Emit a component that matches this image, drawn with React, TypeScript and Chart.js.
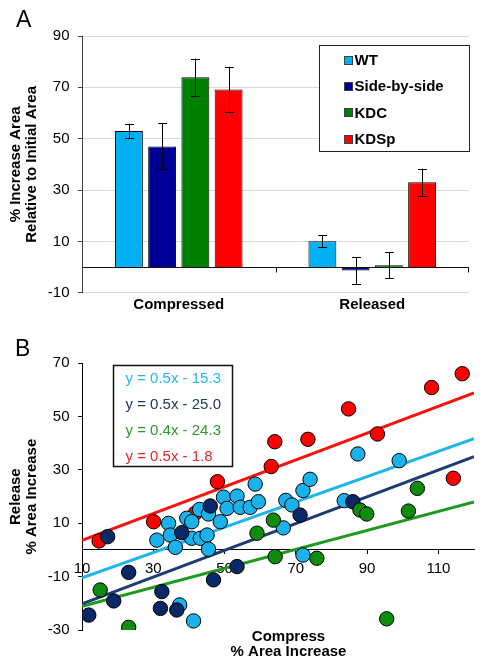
import React, { useEffect, useRef } from "react";
import { Chart, registerables } from "chart.js";

Chart.register(...registerables);

const FONT = "'Liberation Sans', Arial, Helvetica, sans-serif";

// ---------- Panel A data ----------
const groups = ["Compressed", "Released"];
const seriesNames = ["WT", "Side-by-side", "KDC", "KDSp"];
const wtMeans = [53, 10];
const sideMeans = [47, -1.4];
const kdcMeans = [73.9, 0.7];
const kdspMeans = [69.2, 33];
const wtErrors = [2.8, 2.3];
const sideErrors = [9, 5.3];
const kdcErrors = [7.3, 5.1];
const kdspErrors = [8.8, 5.3];
const barTicks = [-10, 10, 30, 50, 70, 90];
const barColors = ["#00B0F0", "#000099", "#008000", "#FF0000"];

// ---------- Panel B data ----------
const wtX = [31, 34.3, 34.8, 36.2, 39.4, 40.8, 40.8, 43.2, 45.1, 45.5, 43, 45.5, 48.8, 49.7, 50.7, 53.5, 54.4, 57.2, 58.6, 59.5, 66.5, 67.2, 68.9, 72, 74, 72, 83.6, 87.4, 99, 37.4, 41.3];
const wtY = [3.7, 10, 5.6, 1, 11.9, 10.6, 4.4, 4.4, 5.6, 0.3, 15.2, 13.5, 10.6, 19.8, 15.6, 20.2, 16, 16, 24.7, 18.1, 8.3, 18.6, 16.9, 22.3, 26.5, -1.9, 18.5, 36, 33.5, -20.6, -26.6];
const sideX = [17.2, 11.9, 18.9, 23.1, 32.4, 32, 36.6, 38, 46, 46.9, 53.5, 71.2, 86];
const sideY = [5, -24.4, -19.1, -8.4, -15.6, -21.9, -22.5, 6.5, 16.5, -11.2, -6.2, 13.1, 18.1];
const kdcX = [15.1, 23.1, 59.1, 63.7, 64.2, 75.9, 88, 89.9, 95.5, 101.6, 104.1];
const kdcY = [-15, -29, 6.3, 11.2, -2.5, -3.1, 15, 13.5, -25.8, 14.6, 23.1];
const kdspX = [14.8, 30.1, 41.8, 48, 63.1, 64.1, 73.4, 84.8, 92.9, 108.1, 116.7, 114.2];
const kdspY = [3.4, 10.6, 13.8, 25.6, 31.3, 40.6, 41.5, 52.9, 43.5, 60.9, 66.1, 26.9];

const trendX = [10, 120];
const wtTrendY = [-10.4, 41.7];
const sideTrendY = [-20.2, 35];
const kdcTrendY = [-21.1, 18];
const kdspTrendY = [3.6, 58.9];

const equations = ["y = 0.5x - 15.3", "y = 0.5x - 25.0", "y = 0.4x - 24.3", "y = 0.5x - 1.8"];
const compressTicks = [10, 30, 50, 70, 90, 110];
const releaseTicks = [-30, -10, 10, 30, 50, 70];

const pointColors = ["#1AB2EA", "#0B2866", "#0F8C0F", "#FF0000"];
const lineColors = ["#1CB5EC", "#1F3C75", "#1E9A1E", "#FF1010"];
const eqColors = ["#27B5E8", "#1F3864", "#2E9B2E", "#E8262A"];

const meansBySeries = [wtMeans, sideMeans, kdcMeans, kdspMeans];
const errorsBySeries = [wtErrors, sideErrors, kdcErrors, kdspErrors];

const panelAPlugin = {
  id: "panelAExtras",
  afterDatasetsDraw(chart: any) {
    const { ctx, chartArea, scales } = chart;
    const y = scales.y;
    const x = scales.x;
    ctx.save();
    // error bars
    ctx.strokeStyle = "#000";
    ctx.lineWidth = 1;
    meansBySeries.forEach((means, i) => {
      const meta = chart.getDatasetMeta(i);
      means.forEach((m, j) => {
        const el = meta.data[j];
        const err = errorsBySeries[i][j];
        const yt = y.getPixelForValue(m + err);
        const yb = y.getPixelForValue(m - err);
        const cx = Math.round(el.x) + 0.5;
        ctx.beginPath();
        ctx.moveTo(cx, yt);
        ctx.lineTo(cx, yb);
        ctx.moveTo(cx - 4.5, Math.round(yt) + 0.5);
        ctx.lineTo(cx + 4.5, Math.round(yt) + 0.5);
        ctx.moveTo(cx - 4.5, Math.round(yb) + 0.5);
        ctx.lineTo(cx + 4.5, Math.round(yb) + 0.5);
        ctx.stroke();
      });
    });
    // zero line
    const y0 = Math.round(y.getPixelForValue(0)) + 0.5;
    ctx.strokeStyle = "#111";
    ctx.beginPath();
    ctx.moveTo(chartArea.left, y0);
    ctx.lineTo(chartArea.right, y0);
    const sep = (x.getPixelForValue(0) + x.getPixelForValue(1)) / 2;
    ctx.moveTo(Math.round(sep) + 0.5, y0);
    ctx.lineTo(Math.round(sep) + 0.5, y0 + 5);
    ctx.moveTo(chartArea.right - 0.5, y0);
    ctx.lineTo(chartArea.right - 0.5, y0 + 5);
    ctx.stroke();
    ctx.restore();
  },
  afterDraw(chart: any) {
    const { ctx, chartArea } = chart;
    ctx.save();
    // legend box
    const bw = 150;
    const bh = 106;
    const bx = Math.round(chartArea.right - bw) + 0.5;
    const by = Math.round(chartArea.top + 9) + 0.5;
    ctx.fillStyle = "#fff";
    ctx.fillRect(bx, by, bw, bh);
    ctx.strokeStyle = "#222";
    ctx.lineWidth = 1;
    ctx.strokeRect(bx, by, bw, bh);
    ctx.font = `bold 15px ${FONT}`;
    ctx.textBaseline = "middle";
    ctx.textAlign = "left";
    chart.data.datasets.forEach((ds: any, i: number) => {
      const cy = by + 14.3 + i * 26.3;
      ctx.fillStyle = ds.backgroundColor;
      ctx.fillRect(bx + 25, Math.round(cy - 4) + 0.5, 8, 8);
      ctx.strokeStyle = "#404040";
      ctx.strokeRect(bx + 25, Math.round(cy - 4) + 0.5, 8, 8);
      ctx.fillStyle = "#000";
      ctx.fillText(ds.label, bx + 35, cy + 1);
    });
    // panel letter
    ctx.font = `23px ${FONT}`;
    ctx.textBaseline = "alphabetic";
    ctx.fillStyle = "#000";
    ctx.fillText("A", 16, 27);
    ctx.restore();
  },
};

const panelBPlugin = {
  id: "panelBExtras",
  afterDraw(chart: any) {
    const { ctx, chartArea } = chart;
    ctx.save();
    const bx = Math.round(chartArea.left + 31.3) + 0.5;
    const by = Math.round(chartArea.top + 1.7) + 0.5;
    const bw = 119;
    const bh = 101;
    ctx.fillStyle = "#fff";
    ctx.fillRect(bx, by, bw, bh);
    ctx.strokeStyle = "#111";
    ctx.lineWidth = 1.5;
    ctx.strokeRect(bx, by, bw, bh);
    ctx.font = `15px ${FONT}`;
    ctx.textBaseline = "middle";
    ctx.textAlign = "left";
    equations.forEach((eq, i) => {
      ctx.fillStyle = eqColors[i];
      ctx.fillText(eq, bx + 12, by + 13 + i * 26);
    });
    // x title
    ctx.fillStyle = "#000";
    ctx.font = `bold 15px ${FONT}`;
    ctx.textAlign = "center";
    ctx.textBaseline = "alphabetic";
    const tx = chartArea.left + 206.5;
    ctx.fillText("Compress", tx, chartArea.bottom + 10.7);
    ctx.fillText("% Area Increase", tx, chartArea.bottom + 25.7);
    // panel letter
    ctx.font = `23px ${FONT}`;
    ctx.textAlign = "left";
    ctx.fillText("B", 15, 31);
    ctx.restore();
  },
};

export default function App() {
  const refA = useRef<HTMLCanvasElement>(null);
  const refB = useRef<HTMLCanvasElement>(null);

  useEffect(() => {
    const tickFont = { family: FONT, size: 15 };
    const titleFont = { family: FONT, size: 15, weight: "bold" as const, lineHeight: 16 / 15 };

    const chartA = new Chart(refA.current as HTMLCanvasElement, {
      type: "bar",
      data: {
        labels: groups,
        datasets: seriesNames.map((name, i) => ({
          label: name,
          data: meansBySeries[i],
          backgroundColor: barColors[i],
          borderColor: "#000",
          borderWidth: 1,
          categoryPercentage: 0.687,
          barPercentage: 0.84,
        })),
      },
      options: {
        responsive: false,
        animation: false,
        events: [],
        layout: { padding: { left: 0, right: 15, top: 36, bottom: 0 } },
        plugins: { legend: { display: false }, tooltip: { enabled: false } },
        scales: {
          x: {
            grid: { display: false, drawTicks: false },
            border: { display: false },
            ticks: { font: { family: FONT, size: 15, weight: "bold" }, color: "#000", padding: 3 },
            afterFit: (s: any) => {
              s.height = 32.3;
            },
          },
          y: {
            min: -10,
            max: 90,
            afterBuildTicks: (s: any) => {
              s.ticks = barTicks.map((v) => ({ value: v }));
            },
            grid: { color: "#d9d9d9", tickColor: "#404040", tickLength: 4, drawTicks: true },
            border: { color: "#404040", width: 1 },
            ticks: { font: tickFont, color: "#000", padding: 8.5 },
            title: {
              display: true,
              text: ["% Increase Area", "Relative to Initial Area"],
              font: titleFont,
              color: "#000",
              padding: { top: 7.5, bottom: 0 },
            },
            afterFit: (s: any) => {
              s.width = 82;
            },
          },
        },
      } as any,
      plugins: [panelAPlugin],
    });

    const trendSets = [wtTrendY, sideTrendY, kdcTrendY, kdspTrendY];
    const pointSets = [
      [wtX, wtY],
      [sideX, sideY],
      [kdcX, kdcY],
      [kdspX, kdspY],
    ];
    const pointOrder = [4, 3, 2, 5];

    const chartB = new Chart(refB.current as HTMLCanvasElement, {
      type: "scatter",
      data: {
        datasets: [
          ...trendSets.map((ys, i) => ({
            type: "line" as const,
            label: "trend " + seriesNames[i],
            data: trendX.map((x, k) => ({ x, y: ys[k] })),
            borderColor: lineColors[i],
            borderWidth: 3,
            pointRadius: 0,
            showLine: true,
            fill: false,
            order: 10 + i,
          })),
          ...pointSets.map(([xs, ys], i) => ({
            type: "scatter" as const,
            label: seriesNames[i],
            data: xs.map((x, k) => ({ x, y: ys[k] })),
            backgroundColor: pointColors[i],
            borderColor: "#000",
            borderWidth: 1,
            pointRadius: 7.2,
            order: pointOrder[i],
          })),
        ],
      },
      options: {
        responsive: false,
        animation: false,
        events: [],
        layout: { padding: { left: 0, right: 10, top: 38.3, bottom: 36 } },
        plugins: { legend: { display: false }, tooltip: { enabled: false } },
        scales: {
          x: {
            type: "linear",
            min: 10,
            max: 120,
            position: { y: 0 },
            afterBuildTicks: (s: any) => {
              s.ticks = compressTicks.map((v) => ({ value: v }));
            },
            grid: { drawOnChartArea: false, drawTicks: true, tickLength: 4, color: "#000" },
            border: { color: "#000", width: 1 },
            ticks: { font: tickFont, color: "#000", padding: 6 },
          },
          y: {
            type: "linear",
            min: -30,
            max: 70,
            afterBuildTicks: (s: any) => {
              s.ticks = releaseTicks.map((v) => ({ value: v }));
            },
            grid: { drawOnChartArea: false, drawTicks: true, tickLength: 4, color: "#000" },
            border: { color: "#000", width: 1 },
            ticks: { font: tickFont, color: "#000", padding: 8.5 },
            title: {
              display: true,
              text: ["Release", "% Area Increase"],
              font: titleFont,
              color: "#000",
              padding: { top: 7.5, bottom: 0 },
            },
            afterFit: (s: any) => {
              s.width = 82;
            },
          },
        },
      } as any,
      plugins: [panelBPlugin],
    });

    return () => {
      chartA.destroy();
      chartB.destroy();
    };
  }, []);

  return (
    <div style={{ position: "absolute", left: 0, top: 0, width: 484, height: 666, background: "#fff" }}>
      <canvas ref={refA} width={484} height={325} style={{ position: "absolute", left: 0, top: 0, display: "block" }} />
      <canvas ref={refB} width={484} height={341} style={{ position: "absolute", left: 0, top: 325, display: "block" }} />
    </div>
  );
}
